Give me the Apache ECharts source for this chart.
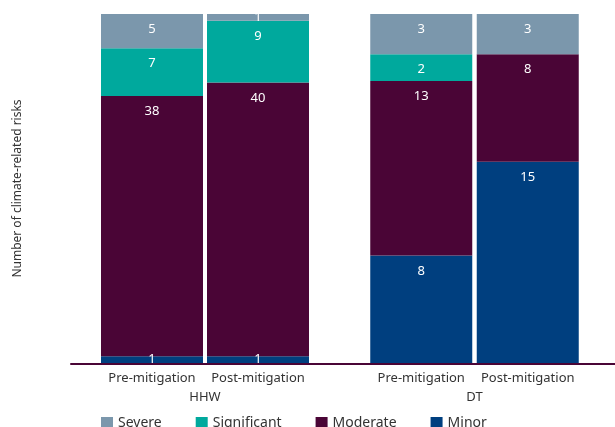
<!DOCTYPE html>
<html>
<head>
<meta charset="utf-8">
<script src="https://cdn.jsdelivr.net/npm/echarts@6/dist/echarts.min.js"></script>
<style>html,body{margin:0;padding:0;background:#fff}#c{width:615px;height:427px}</style>
</head>
<body>
<div id="c"></div>
<script>
// ---- data ----
var groups = ['HHW', 'DT'];
var stages = ['Pre-mitigation', 'Post-mitigation'];
var seriesNames = ['Severe', 'Significant', 'Moderate', 'Minor'];
var hhwMinor = [1, 1];
var hhwModerate = [38, 40];
var hhwSignificant = [7, 9];
var hhwSevere = [5, 1];
var dtMinor = [8, 15];
var dtModerate = [13, 8];
var dtSignificant = [2, 0];
var dtSevere = [3, 3];

var colors = {Severe: '#7b97ac', Significant: '#00a99d', Moderate: '#4a0536', Minor: '#003f7f'};
var FONT = '"Noto Sans", "Open Sans", sans-serif';
var PLOT_H = 349;

var groupData = [
  {Minor: hhwMinor, Moderate: hhwModerate, Significant: hhwSignificant, Severe: hhwSevere},
  {Minor: dtMinor, Moderate: dtModerate, Significant: dtSignificant, Severe: dtSevere}
];

function totals(g) {
  return stages.map(function (s, i) {
    return g.Minor[i] + g.Moderate[i] + g.Significant[i] + g.Severe[i];
  });
}

var series = [];
var stackOrder = ['Minor', 'Moderate', 'Significant', 'Severe'];
groupData.forEach(function (g, gi) {
  var tot = totals(g);
  var maxTot = Math.max.apply(null, tot);
  stackOrder.forEach(function (name) {
    series.push({
      name: name,
      type: 'bar',
      xAxisIndex: gi,
      yAxisIndex: gi,
      stack: 'g' + gi,
      barWidth: 102,
      itemStyle: {color: colors[name]},
      label: {
        show: true,
        position: 'insideTop',
        distance: 9,
        color: '#ffffff',
        fontFamily: FONT,
        fontSize: 13,
        formatter: function (p) { return p.value ? String(p.value) : ''; }
      },
      data: g[name].map(function (v) {
        var px = v / maxTot * PLOT_H;
        if (v && px < 20) {
          return {value: v, label: {position: 'inside'}};
        }
        return v;
      })
    });
  });
});

var gridDefs = [
  {left: 99, width: 212, top: 14, bottom: 64},
  {left: 368, width: 213, top: 14, bottom: 64},
  {left: 71, right: 0, top: 14, bottom: 63}
];

var xAxes = groups.map(function (gname, gi) {
  return {
    type: 'category',
    gridIndex: gi,
    data: stages,
    axisLine: {show: false},
    axisTick: {show: false},
    axisLabel: {color: '#333', fontFamily: FONT, fontSize: 13, margin: 9, interval: 0},
    name: gname,
    nameLocation: 'middle',
    nameGap: 28,
    nameTextStyle: {color: '#333', fontFamily: FONT, fontSize: 13}
  };
});
xAxes.push({
  type: 'category', gridIndex: 2, data: [''],
  axisLine: {show: true, lineStyle: {color: '#4a0536', width: 2}},
  axisTick: {show: false}, axisLabel: {show: false}
});

var yAxes = groupData.map(function (g, gi) {
  var tot = totals(g);
  return {
    type: 'value',
    gridIndex: gi,
    min: 0,
    max: Math.max.apply(null, tot),
    axisLine: {show: false},
    axisTick: {show: false},
    axisLabel: {show: false},
    splitLine: {show: false},
    name: gi === 0 ? 'Number of climate-related risks' : '',
    nameLocation: 'middle',
    nameGap: 75,
    nameRotate: 90,
    nameTextStyle: {color: '#333', fontFamily: FONT, fontSize: 12}
  };
});
yAxes.push({type: 'value', gridIndex: 2, show: false, min: 0, max: 1});

var chart = echarts.init(document.getElementById('c'), null, {renderer: 'canvas'});
chart.setOption({
  animation: false,
  backgroundColor: '#ffffff',
  grid: gridDefs,
  xAxis: xAxes,
  yAxis: yAxes,
  legend: {
    data: seriesNames,
    left: 96,
    top: 411,
    itemWidth: 12,
    itemHeight: 12,
    itemGap: 34,
    icon: 'rect',
    textStyle: {color: '#333', fontFamily: FONT, fontSize: 14}
  },
  series: series
});
</script>
</body>
</html>
